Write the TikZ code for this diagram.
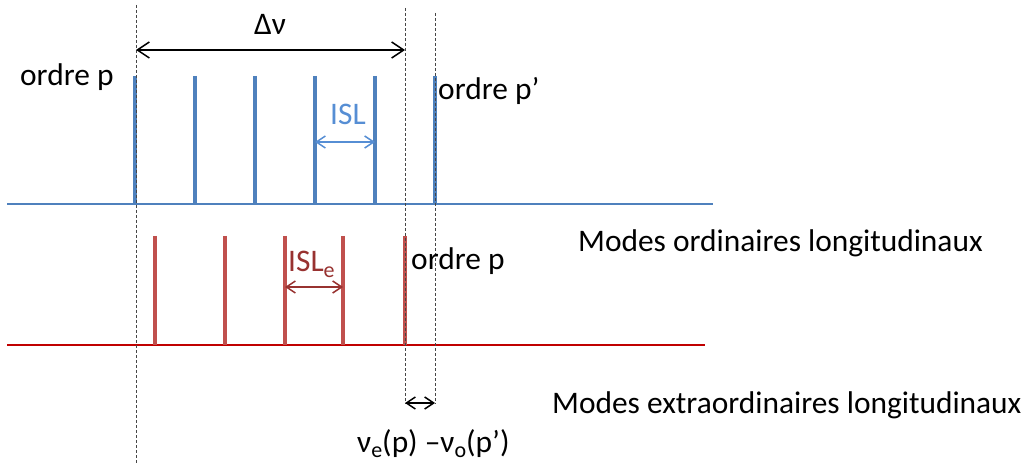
\documentclass[tikz,border=0pt]{standalone}
\usepackage{fontspec}
\setmainfont{Carlito}
\usetikzlibrary{arrows.meta}
\definecolor{barblue}{RGB}{79,129,189}
\definecolor{lblblue}{RGB}{86,142,212}
\definecolor{barred}{RGB}{192,80,77}
\definecolor{linered}{RGB}{192,0,0}
\definecolor{lblred}{RGB}{152,50,48}
\definecolor{guidegray}{RGB}{70,70,70}
\newcommand\mysub[1]{\raisebox{-0.17em}{\fontsize{22}{26}\selectfont #1}}
\begin{document}
\begin{tikzpicture}[x=1pt,y=-1pt,
  bluebar/.style={barblue,line width=4.5pt},
  redbar/.style={barred,line width=4.5pt},
  baseblue/.style={barblue,line width=1.5pt},
  basered/.style={linered,line width=1.5pt},
  guide/.style={guidegray,line width=0.8pt,dash pattern=on 3pt off 2pt},
  bigdim/.style={black,line width=1.5pt,{Straight Barb[length=12pt,width=16pt]}-{Straight Barb[length=12pt,width=16pt]}},
  smalldim/.style={line width=1.5pt,{Straight Barb[length=9pt,width=12pt]}-{Straight Barb[length=9pt,width=12pt]}},
  lbl/.style={font=\fontsize{31.4}{38}\selectfont,inner sep=0pt,anchor=base west}]
\useasboundingbox (0,0) rectangle (1026,465);
\fill[white] (0,0) rectangle (1026,465);

% guide lines
\coordinate (g1t) at (136,5);   \coordinate (g1b) at (136,465);
\coordinate (g2t) at (405,8);   \coordinate (g2b) at (405,404);
\coordinate (g3t) at (435,13);  \coordinate (g3b) at (435,404);

% blue (ordinary) modes
\coordinate (bl0) at (7,204); \coordinate (bl1) at (713,204);
\draw[baseblue] (bl0) -- (bl1);
\foreach \i/\x in {1/135,2/195,3/255,4/315,5/375,6/435}{
  \coordinate (bt\i) at (\x,76); \coordinate (bb\i) at (\x,204);
  \draw[bluebar] (bt\i) -- (bb\i);
}

% red (extraordinary) modes
\coordinate (rl0) at (7,345); \coordinate (rl1) at (705,345);
\draw[basered] (rl0) -- (rl1);
\foreach \i/\x in {1/155,2/225,3/285,4/343,5/405}{
  \coordinate (rt\i) at (\x,236); \coordinate (rb\i) at (\x,345);
  \draw[redbar] (rt\i) -- (rb\i);
}

\draw[guide] (g1t) -- (g1b);
\draw[guide] (g2t) -- (g2b);
\draw[guide] (g3t) -- (g3b);

% dimension arrows
\coordinate (dva) at (136,50); \coordinate (dvb) at (405,50);
\draw[bigdim] (dva) -- (dvb);
\coordinate (isla) at (315,142); \coordinate (islb) at (375,142);
\draw[smalldim,lblblue] (isla) -- (islb);
\coordinate (isea) at (285,287); \coordinate (iseb) at (343,287);
\draw[smalldim,lblred] (isea) -- (iseb);
\coordinate (da) at (405,403); \coordinate (db) at (435,403);
\draw[smalldim,black] (da) -- (db);

% labels
\node[lbl] (dnu) at (254,35) {Δν};
\node[lbl] (op) at (20,86) {ordre p};
\node[lbl] (opp) at (438,100) {ordre p’};
\node[lbl,lblblue] (isl) at (330,125) {ISL};
\node[lbl,lblred] (isle) at (288,272) {ISL\mysub{e}};
\node[lbl] (ope) at (411,270) {ordre p};
\node[lbl] (mo) at (578,252) {Modes ordinaires longitudinaux};
\node[lbl] (me) at (552,413) {Modes extraordinaires longitudinaux};
\node[lbl] (diff) at (357,452) {ν\mysub{e}(p) –ν\mysub{o}(p’)};
\end{tikzpicture}
\end{document}
